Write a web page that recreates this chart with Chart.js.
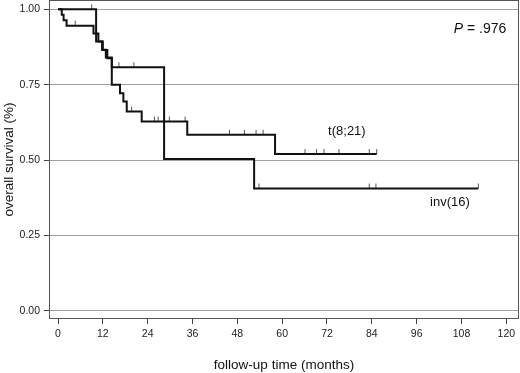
<!DOCTYPE html>
<html>
<head>
<meta charset="utf-8">
<script src="https://cdn.jsdelivr.net/npm/chart.js@4"></script>
<style>
  html, body { margin: 0; padding: 0; background: #fff; }
  #wrap { width: 520px; height: 373px; }
</style>
</head>
<body>
<div id="wrap"><canvas id="km" width="520" height="373"></canvas></div>
<script>
// Kaplan-Meier steps (months, survival after the event)
const t821Times = [0, 1.0, 1.5, 2.3, 9.5, 10.8, 11.8, 12.8, 14.4, 16.6, 17.5, 18.4, 22.4, 34.6, 58.1, 85.3];
const t821Surv  = [1, 0.982, 0.964, 0.946, 0.92, 0.893, 0.866, 0.84, 0.75, 0.722, 0.694, 0.661, 0.628, 0.584, 0.52, 0.52];
const t821Censor = [4.6, 19.7, 25.8, 26.8, 29.8, 34.0, 45.9, 49.9, 53.0, 54.9, 66.1, 69.2, 71.2, 75.2, 83.3, 85.3];

const invTimes = [0, 10.2, 12.0, 13.2, 14.4, 28.4, 52.5, 112.5];
const invSurv  = [1, 0.893, 0.865, 0.838, 0.808, 0.504, 0.406, 0.406];
const invCensor = [9.0, 16.3, 20.3, 53.8, 83.3, 85.1, 112.5];

const xTicks = [0, 12, 24, 36, 48, 60, 72, 84, 96, 108, 120];
const yTicks = [0, 0.25, 0.5, 0.75, 1.0];

const FONT = '"Liberation Sans", Arial, Helvetica, sans-serif';

const curve = (times, surv) => times.map((t, i) => ({x: t, y: surv[i]}));
// survival level at time t (step function)
const levelAt = (times, surv, t) => {
  let s = surv[0];
  for (let i = 0; i < times.length; i++) if (times[i] <= t) s = surv[i];
  return s;
};
const marks = (cens, times, surv) => cens.map(t => ({x: t, y: levelAt(times, surv, t)}));

// small upward tick used as censoring mark
function censorMark() {
  const c = document.createElement('canvas');
  c.width = 3; c.height = 12;
  const g = c.getContext('2d');
  g.fillStyle = '#555';
  g.fillRect(1, 1, 1, 5);
  return c;
}
const tick = censorMark();

const boxAndLabels = {
  id: 'boxAndLabels',
  beforeDatasetsDraw(chart) {
    const {ctx, chartArea: a} = chart;
    ctx.save();
    ctx.strokeStyle = '#555';
    ctx.lineWidth = 1;
    ctx.strokeRect(a.left + 0.5, a.top + 0.5, a.right - a.left - 1, a.bottom - a.top - 1);
    ctx.restore();
  },
  afterDraw(chart) {
    const {ctx, scales: {x, y}} = chart;
    ctx.save();
    ctx.fillStyle = '#111';
    ctx.textBaseline = 'middle';
    ctx.font = '13px ' + FONT;
    ctx.fillText('t(8;21)', x.getPixelForValue(72.3), y.getPixelForValue(0.595));
    ctx.fillText('inv(16)', x.getPixelForValue(99.6), y.getPixelForValue(0.358));
    // P value, italic P
    ctx.font = '14px ' + FONT;
    const rest = ' = .976';
    const wRest = ctx.measureText(rest).width;
    const right = x.getPixelForValue(120);
    const py = y.getPixelForValue(0.935);
    ctx.textAlign = 'right';
    ctx.fillText(rest, right, py);
    ctx.font = 'italic 14px ' + FONT;
    ctx.fillText('P', right - wRest, py);
    ctx.restore();
  }
};

new Chart(document.getElementById('km'), {
  type: 'line',
  data: {
    datasets: [
      { label: 't(8;21)', data: curve(t821Times, t821Surv), stepped: true, borderColor: '#111', borderWidth: 2, pointRadius: 0, fill: false },
      { label: 'inv(16)', data: curve(invTimes, invSurv), stepped: true, borderColor: '#111', borderWidth: 2, pointRadius: 0, fill: false },
      { label: 't(8;21) censored', data: marks(t821Censor, t821Times, t821Surv), showLine: false, pointStyle: tick, pointRadius: 3 },
      { label: 'inv(16) censored', data: marks(invCensor, invTimes, invSurv), showLine: false, pointStyle: tick, pointRadius: 3 }
    ]
  },
  options: {
    responsive: false,
    animation: false,
    layout: { autoPadding: false, padding: { top: 0, right: 1, left: 0, bottom: 0 } },
    plugins: { legend: { display: false }, tooltip: { enabled: false } },
    scales: {
      x: {
        type: 'linear', min: -2.41, max: 123.4,
        afterBuildTicks: s => { s.ticks = xTicks.map(v => ({value: v})); },
        afterFit: s => { s.height = 54; s.paddingLeft = 0; s.paddingRight = 0; },
        grid: { drawOnChartArea: false, tickLength: 5, tickColor: '#444' },
        border: { display: false },
        ticks: { color: '#222', font: { size: 10.5, family: FONT }, padding: 4, maxRotation: 0, autoSkip: false },
        title: { display: true, text: 'follow-up time (months)', color: '#111', font: { size: 13.5, family: FONT }, padding: { top: 0, bottom: 0 } }
      },
      y: {
        min: -0.027, max: 1.031,
        afterBuildTicks: s => { s.ticks = yTicks.map(v => ({value: v})); },
        afterFit: s => { s.width = 49; s.paddingTop = 0; s.paddingBottom = 0; },
        grid: { color: '#a0a0a0', tickLength: 5, tickColor: '#444' },
        border: { display: false },
        ticks: { color: '#222', font: { size: 10.5, family: FONT }, padding: 4, callback: v => v.toFixed(2) },
        title: { display: true, text: 'overall survival (%)', color: '#111', font: { size: 13.5, family: FONT }, padding: { top: 1, bottom: 0 } }
      }
    }
  },
  plugins: [boxAndLabels]
});
</script>
</body>
</html>
